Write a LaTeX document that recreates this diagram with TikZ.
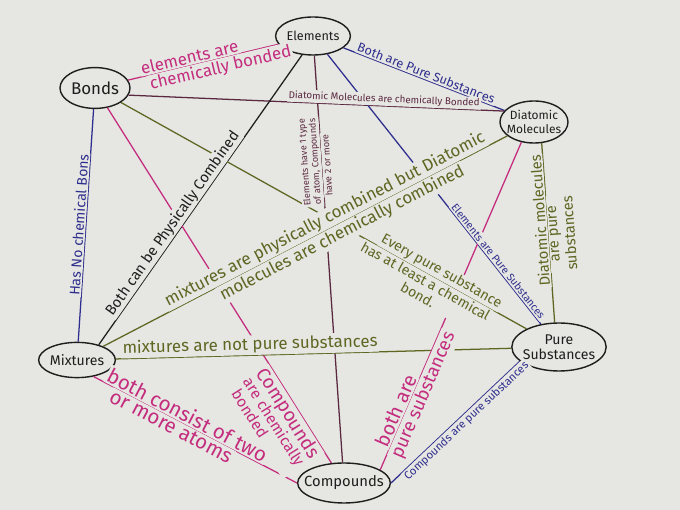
\documentclass[tikz,border=0pt]{standalone}
\usepackage{fontspec}
\setmainfont{Fira Sans}
\usetikzlibrary{shapes.geometric,positioning}

\definecolor{paper}{HTML}{E6E6E2}
\definecolor{mag}{HTML}{C42C7E}
\definecolor{navy}{HTML}{2E2E8E}
\definecolor{olive}{HTML}{5E6622}
\definecolor{maroon}{HTML}{5A2840}
\definecolor{ink}{HTML}{1E1E1E}

\newcommand{\fsz}[2]{\fontsize{#1}{#2}\selectfont}

\tikzset{
  concept/.style={ellipse, draw=ink, line width=1pt, fill=paper, inner sep=0pt, align=center, text=ink},
  link/.style={line width=0.9pt},
  lbl/.style={sloped, fill=paper, inner sep=1pt, align=center},
}

\begin{document}
\begin{tikzpicture}[x=0.025cm, y=-0.025cm]
    \fill[paper] (0,0) rectangle (680,510);
    \useasboundingbox (0,0) rectangle (680,510);

    % concepts
    \node[concept, minimum width=1.75cm, minimum height=0.95cm, font=\fsz{9}{10}] (elem) at (313,36) {Elements};
    \node[concept, minimum width=1.75cm, minimum height=1.02cm, font=\fsz{12}{13}] (bonds) at (95,88) {Bonds};
    \node[concept, minimum width=1.7cm, minimum height=1.05cm, inner xsep=-4pt, font=\fsz{8.5}{10}] (diat) at (534,122) {Diatomic\\Molecules};
    \node[concept, minimum width=1.88cm, minimum height=0.88cm, font=\fsz{10}{11}] (mix) at (77,360) {Mixtures};
    \node[concept, minimum width=2.2cm, minimum height=1.2cm, inner xsep=-2pt, font=\fsz{10}{11}] (pure) at (559,347) {Pure\\Substances};
    \node[concept, minimum width=2.2cm, minimum height=1cm, inner xsep=-5pt, font=\fsz{10.5}{11}] (comp) at (344,483) {Compounds};

    % links
    \draw[link, mag] (bonds) -- (elem);
    \draw[link, navy] (elem) -- (diat);
    \draw[link, maroon] (bonds.-12) -- (diat.160);
    \draw[link, maroon] (comp) -- (elem);
    \draw[link, ink] (elem.-120) -- (mix.35);
    \draw[link, navy] (elem) -- (pure);
    \draw[link, navy] (bonds) -- (mix);
    \draw[link, mag] (bonds) -- (comp);
    \draw[link, olive] (bonds) -- (pure);
    \draw[link, olive] (mix) -- (diat);
    \draw[link, olive] (mix) -- (pure);
    \draw[link, mag] (mix.-45) -- (comp.west);
    \draw[link, navy] (comp.0) -- (pure.200);
    \draw[link, mag] (diat.-122) -- (comp.20);
    \draw[link, olive] (pure.100) -- (diat.-70);

    % labels on top of the links
    \path (bonds) -- node[lbl, text=mag, above, pos=.42, font=\fsz{12}{13}] {elements are}
        node[lbl, text=mag, below, pos=.6, font=\fsz{12}{13}] {chemically bonded} (elem);
    \path (elem) -- node[lbl, text=navy, above, pos=.5, font=\fsz{9}{10}] {Both are Pure Substances} (diat);
    \path (bonds.-12) -- node[lbl, text=maroon, above, pos=.68, font=\fsz{7}{8}] {Diatomic Molecules are chemically Bonded} (diat.160);
    \path (comp) -- node[lbl, text=maroon, above, allow upside down, pos=.74, font=\fsz{6.5}{7.5}] {Elements have 1 type\\of atom, Compounds}
        node[lbl, text=maroon, below, allow upside down, pos=.73, font=\fsz{6.5}{7.5}] {have 2 or more} (elem);
    \path (elem.-120) -- node[lbl, text=ink, above, pos=.6, font=\fsz{10.5}{12}] {Both can be Physically Combined} (mix.35);
    \path (elem) -- node[lbl, text=navy, above, pos=.78, font=\fsz{7.5}{8}] {Elements are Pure Substances} (pure);
    \path (bonds) -- node[lbl, text=navy, above, pos=.5, font=\fsz{10}{11}] {Has No chemical Bons} (mix);
    \path (bonds) -- node[lbl, text=olive, above, pos=.78, font=\fsz{10}{11}] {Every pure substance}
        node[lbl, text=olive, below, pos=.76, font=\fsz{10}{11}] {has at least a chemical\\bond.} (pure);
    \path (mix) -- node[lbl, text=olive, above, pos=.56, font=\fsz{12}{12}] {mixtures are physically combined but Diatomic}
        node[lbl, text=olive, below, pos=.58, font=\fsz{12}{12}] {molecules are chemically combined} (diat);
    \path (mix) -- node[lbl, text=olive, above, pos=.34, font=\fsz{12}{12}] {mixtures are not pure substances} (pure);
    \path (mix.-45) -- node[lbl, text=mag, above, pos=.44, font=\fsz{14.5}{15}] {both consist of two}
        node[lbl, text=mag, below, pos=.4, font=\fsz{14.5}{15}] {or more atoms} (comp.west);
    \path (bonds) -- node[lbl, text=mag, below, pos=.845, align=left, font=\fsz{11}{11.5}] {{\fsz{13.5}{14}Compounds}\\are chemically\\\ bonded} (comp);
    \path (comp.0) -- node[lbl, text=navy, below, pos=.55, font=\fsz{8}{9}] {Compounds are pure substances} (pure.200);
    \path (diat.-122) -- node[lbl, text=mag, above, pos=.83, font=\fsz{14}{15}] {both are}
        node[lbl, text=mag, below, pos=.76, font=\fsz{13}{14}] {pure substances} (comp.20);
    \path (pure.100) -- node[lbl, text=olive, above, allow upside down, pos=.57, font=\fsz{10.5}{11}] {Diatomic molecules}
        node[lbl, text=olive, below, allow upside down, pos=.49, font=\fsz{10.5}{12}] {are pure\\substances} (diat.-70);
\end{tikzpicture}
\end{document}
